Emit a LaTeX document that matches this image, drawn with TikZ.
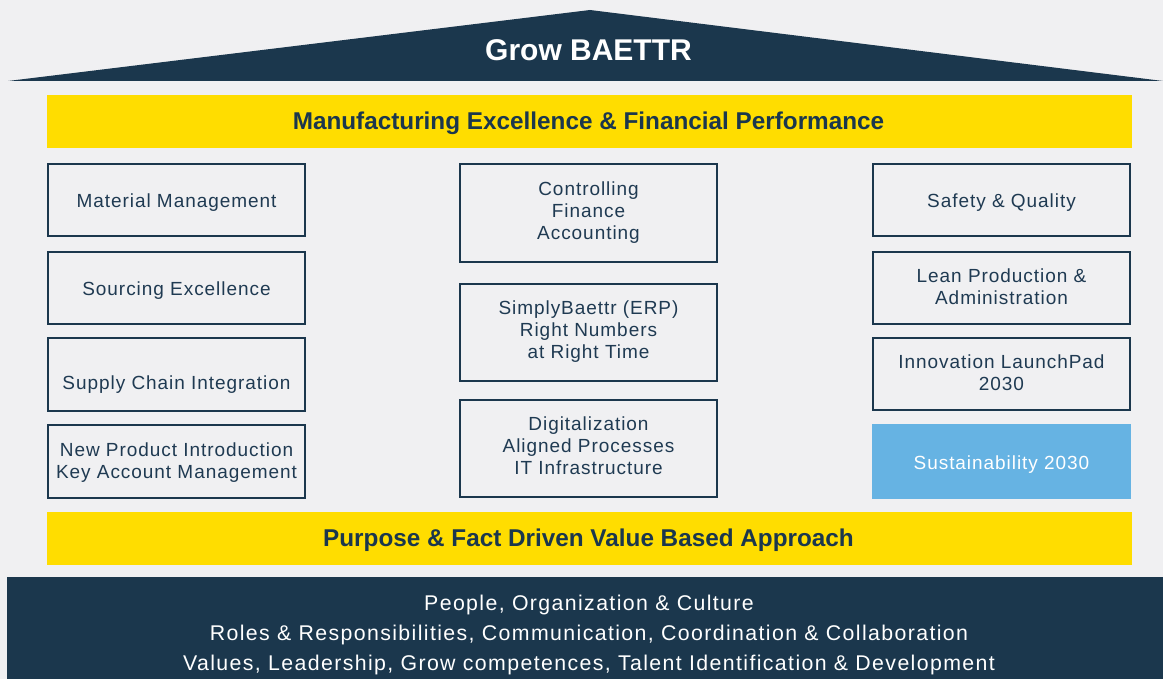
\documentclass[tikz,border=0pt]{standalone}
\usepackage{fontspec}
\setmainfont{Liberation Sans}
\newfontfamily\boxfont[LetterSpace=5]{Liberation Sans}
\newfontfamily\basefont[LetterSpace=6.5]{Liberation Sans}
\definecolor{navy}{HTML}{1B374D}
\definecolor{ink}{HTML}{1F3A52}
\definecolor{ylw}{HTML}{FFDD00}
\definecolor{sky}{HTML}{66B3E3}
\definecolor{bg}{HTML}{F0F0F2}
\begin{document}
\begin{tikzpicture}[x=1pt,y=-1pt,
  pillar/.style={draw=navy, line width=2pt, rectangle, minimum width=257pt, inner sep=0pt},
  skybox/.style={fill=sky, rectangle, minimum width=259pt, inner sep=0pt},
  ptext/.style={align=center, text=ink, inner sep=0pt, text depth=0pt,
    font=\boxfont\fontsize{19}{22}\selectfont},
  bar/.style={fill=ylw, rectangle, minimum width=1085pt, minimum height=53pt, inner sep=0pt},
  bartext/.style={text=navy, inner sep=0pt, text depth=0pt, font=\bfseries\fontsize{24.3}{28}\selectfont},
  basetext/.style={text=white, inner sep=0pt, text depth=0pt, font=\basefont\fontsize{21.3}{30}\selectfont}
]
\useasboundingbox (0,0) rectangle (1163,679);
\fill[bg] (0,0) rectangle (1163,679);
% roof
\fill[navy] (8,81) -- (590,10) -- (1163,81) -- cycle;
\node[text=white, inner sep=0pt, text depth=0pt, font=\bfseries\fontsize{30}{34}\selectfont] (title) at (588.5,50) {Grow BAETTR};
% top bar
\node[bar] (topbar) at (589.5,121.5) {};
\node[bartext] (toptext) at (588.5,121) {Manufacturing Excellence \& Financial Performance};
% left column
\node[pillar, minimum height=72pt] (l1) at (176.5,200) {};
\node[pillar, minimum height=72pt] (l2) at (176.5,288) {};
\node[pillar, minimum height=72pt] (l3) at (176.5,374.5) {};
\node[pillar, minimum height=73pt] (l4) at (176.5,461.5) {};
\node[ptext] (l1t) at (176.5,201) {Material Management};
\node[ptext] (l2t) at (176.5,289) {Sourcing Excellence};
\node[ptext] (l3t) at (176.5,383) {Supply Chain Integration};
\node[ptext] (l4t) at (176.5,461) {New Product Introduction\\Key Account Management};
% middle column
\node[pillar, minimum height=98pt] (m1) at (588.5,213) {};
\node[pillar, minimum height=97pt] (m2) at (588.5,332.5) {};
\node[pillar, minimum height=97pt] (m3) at (588.5,448.5) {};
\node[ptext] (m1t) at (588.5,210.5) {Controlling\\Finance\\Accounting};
\node[ptext] (m2t) at (588.5,330) {SimplyBaettr (ERP)\\Right Numbers\\at Right Time};
\node[ptext] (m3t) at (588.5,446) {Digitalization\\Aligned Processes\\IT Infrastructure};
% right column
\node[pillar, minimum height=72pt] (r1) at (1001.5,200) {};
\node[pillar, minimum height=72pt] (r2) at (1001.5,288) {};
\node[pillar, minimum height=72pt] (r3) at (1001.5,374) {};
\node[skybox, minimum height=75pt] (r4) at (1001.5,461.5) {};
\node[ptext] (r1t) at (1001.5,201) {Safety \& Quality};
\node[ptext] (r2t) at (1001.5,287) {Lean Production \&\\Administration};
\node[ptext] (r3t) at (1001.5,373) {Innovation LaunchPad\\2030};
\node[ptext, text=white] (r4t) at (1001.5,463) {Sustainability 2030};
% bottom bar
\node[bar] (botbar) at (589.5,538.5) {};
\node[bartext] (bottext) at (588.5,538) {Purpose \& Fact Driven Value Based Approach};
% base
\fill[navy] (7,577) rectangle (1163,679);
\node[basetext] (b1) at (589,603) {People, Organization \& Culture};
\node[basetext] (b2) at (589,633) {Roles \& Responsibilities, Communication, Coordination \& Collaboration};
\node[basetext] (b3) at (589,663) {Values, Leadership, Grow competences, Talent Identification \& Development};
\end{tikzpicture}
\end{document}
